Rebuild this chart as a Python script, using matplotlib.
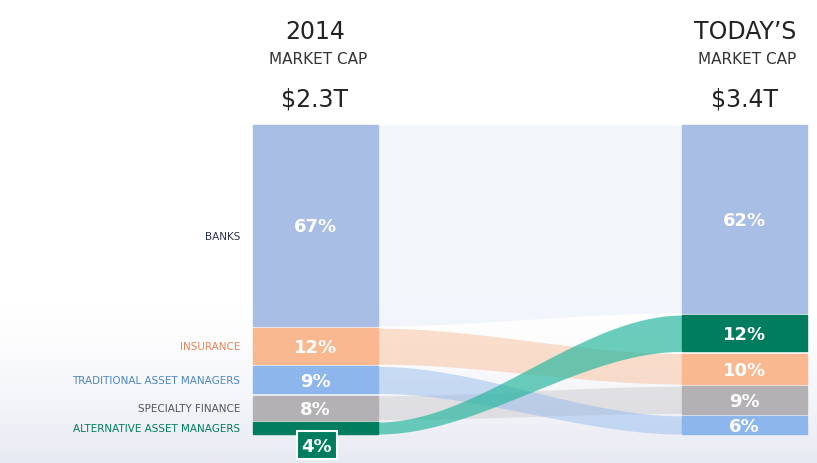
import numpy as np
import matplotlib.pyplot as plt
from matplotlib.colors import LinearSegmentedColormap

categories = ["BANKS", "INSURANCE", "TRADITIONAL ASSET MANAGERS", "SPECIALTY FINANCE", "ALTERNATIVE ASSET MANAGERS"]
share_2014 = [67, 12, 9, 8, 4]
share_today = [62, 10, 6, 9, 12]
order_today = ["BANKS", "ALTERNATIVE ASSET MANAGERS", "INSURANCE", "SPECIALTY FINANCE", "TRADITIONAL ASSET MANAGERS"]
cap_2014 = "$2.3T"
cap_today = "$3.4T"

colors = {
    "BANKS": "#a9bee4",
    "INSURANCE": "#f9b88f",
    "TRADITIONAL ASSET MANAGERS": "#8db6ec",
    "SPECIALTY FINANCE": "#b3b1b4",
    "ALTERNATIVE ASSET MANAGERS": "#007d5f",
}
label_colors = {
    "BANKS": "#2b3550",
    "INSURANCE": "#e8865a",
    "TRADITIONAL ASSET MANAGERS": "#4f86c0",
    "SPECIALTY FINANCE": "#555555",
    "ALTERNATIVE ASSET MANAGERS": "#007d5f",
}
flow_colors = {
    "BANKS": ("#dde6f6", 0.35),
    "INSURANCE": ("#f9b88f", 0.45),
    "TRADITIONAL ASSET MANAGERS": ("#8db6ec", 0.45),
    "SPECIALTY FINANCE": ("#c8c6c9", 0.45),
    "ALTERNATIVE ASSET MANAGERS": ("#2cb8a0", 0.7),
}

fig = plt.figure(figsize=(8.17, 4.64), dpi=100)
ax = fig.add_axes([0, 0, 1, 1])

# faint background gradient near bottom
grad = np.linspace(0, 1, 100)[:, None] ** 1.5
ax.imshow(grad, extent=[0, 817, 464, 300], origin='upper',
          cmap=LinearSegmentedColormap.from_list("bg", ["#ffffff", "#e8eaf3"]), aspect='auto', zorder=0)
ax.set_xlim(0, 817)
ax.set_ylim(464, 0)
ax.axis('off')

top, total_h, gap = 126, 309, 2.3
xl0, xl1 = 253, 378
xr0, xr1 = 682, 807


def stack(cats, vals):
    n = len(cats)
    usable = total_h - gap * (n - 1)
    pos = {}
    y = top
    for c, v in zip(cats, vals):
        h = usable * v / sum(vals)
        pos[c] = (y, y + h)
        y += h + gap
    return pos

left = stack(categories, share_2014)
right_vals = [share_today[categories.index(c)] for c in order_today]
right = stack(order_today, right_vals)

# flows
xs = np.linspace(xl1, xr0, 200)
t = (xs - xl1) / (xr0 - xl1)
s = t * t * (3 - 2 * t)
for c in ["BANKS", "SPECIALTY FINANCE", "TRADITIONAL ASSET MANAGERS", "INSURANCE", "ALTERNATIVE ASSET MANAGERS"]:
    (a0, a1), (b0, b1) = left[c], right[c]
    col, al = flow_colors[c]
    ax.fill_between(xs, a0 + (b0 - a0) * s, a1 + (b1 - a1) * s, color=col, alpha=al, lw=0, zorder=1)

# bars
for pos, x0, x1, vals, cats in [(left, xl0, xl1, share_2014, categories),
                                (right, xr0, xr1, right_vals, order_today)]:
    for c, v in zip(cats, vals):
        y0, y1 = pos[c]
        ax.add_patch(plt.Rectangle((x0, y0), x1 - x0, y1 - y0, color=colors[c], zorder=2))
        if c == "ALTERNATIVE ASSET MANAGERS" and v < 6:
            ax.add_patch(plt.Rectangle((297, 432), 40, 28, facecolor=colors[c], edgecolor="white", lw=1.5, zorder=3))
            ax.text(317, 447, f"{v}%", color="white", fontsize=13, fontweight='bold', ha='center', va='center', zorder=4)
        else:
            ax.text((x0 + x1) / 2, (y0 + y1) / 2 + 1, f"{v}%", color="white", fontsize=13,
                    fontweight='bold', ha='center', va='center', zorder=4)

# category labels
for c in categories:
    y0, y1 = left[c]
    yc = 237 if c == "BANKS" else (y0 + y1) / 2
    ax.text(240, yc, c, color=label_colors[c], fontsize=7.5, ha='right', va='center')

# headers
ax.text(315, 32, "2014", fontsize=17, ha='center', va='center', color="#222222")
ax.text(318, 59, "MARKET CAP", fontsize=11, ha='center', va='center', color="#333333")
ax.text(315, 100, cap_2014, fontsize=17, ha='center', va='center', color="#222222")
ax.text(745, 32, "TODAY\u2019S", fontsize=17, ha='center', va='center', color="#222222")
ax.text(747, 59, "MARKET CAP", fontsize=11, ha='center', va='center', color="#333333")
ax.text(745, 100, cap_today, fontsize=17, ha='center', va='center', color="#222222")

fig.savefig("out.png", dpi=100)
